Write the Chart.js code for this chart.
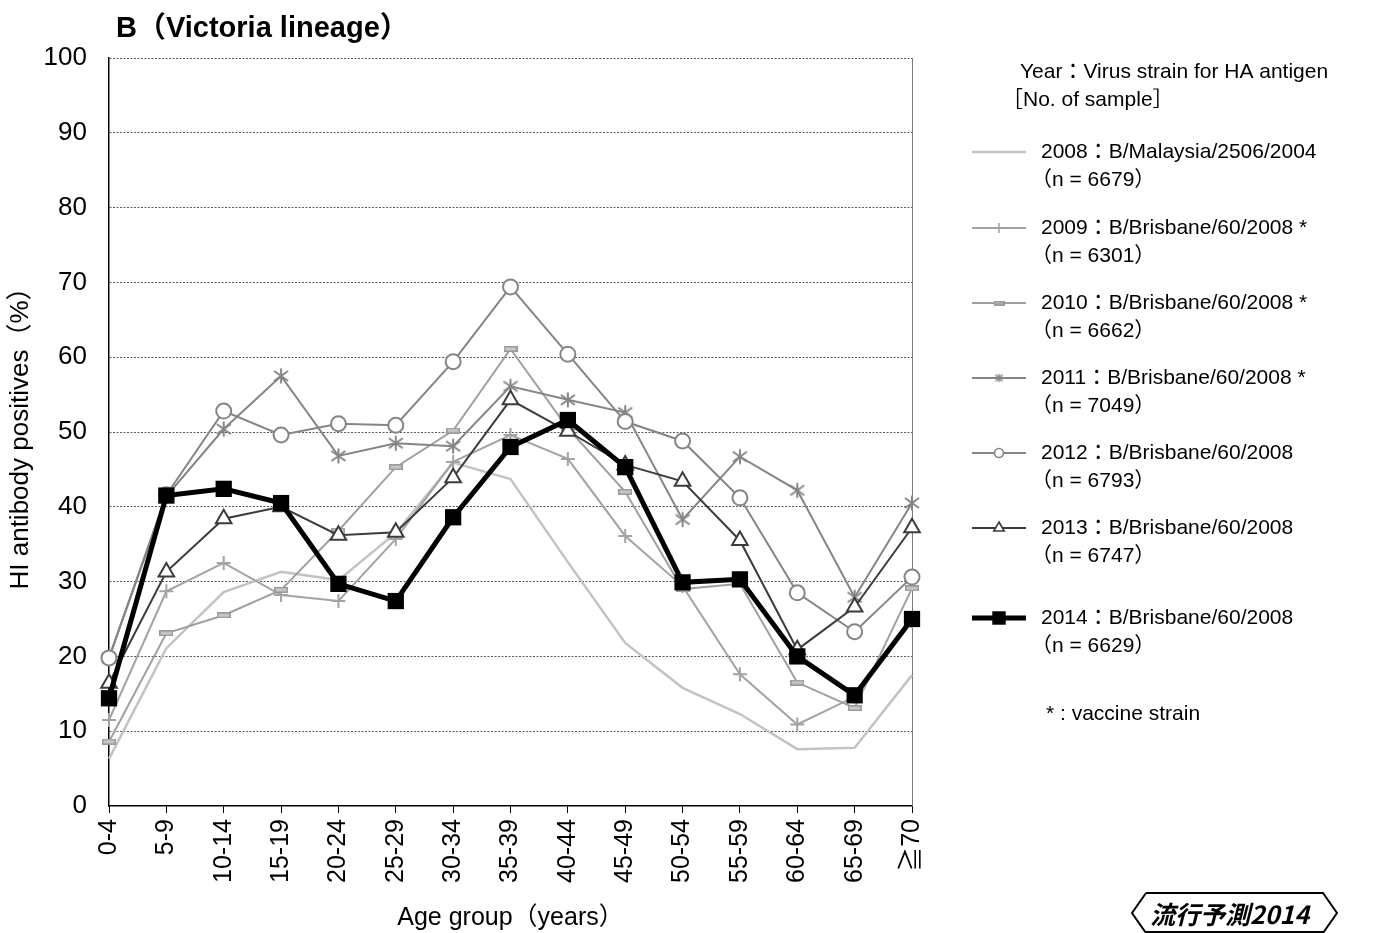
<!DOCTYPE html>
<html>
<head>
<meta charset="utf-8">
<script src="https://cdn.jsdelivr.net/npm/chart.js@4.4.1/dist/chart.umd.min.js"></script>
<style>
  html, body { margin: 0; padding: 0; background: #fff; }
  #wrap { width: 1375px; height: 933px; position: relative; }
</style>
</head>
<body>
<div id="wrap"><canvas id="c" width="1375" height="933"></canvas></div>
<script>
// Age groups along the x axis
const ageGroups = ['0-4','5-9','10-14','15-19','20-24','25-29','30-34','35-39','40-44','45-49','50-54','55-59','60-64','65-69','≧70'];
const yTicks = [0,10,20,30,40,50,60,70,80,90,100];

// Survey years, HA antigen strains and sample counts
const years = ['2008','2009','2010','2011','2012','2013','2014'];
const strains = ['B/Malaysia/2506/2004','B/Brisbane/60/2008 *','B/Brisbane/60/2008 *','B/Brisbane/60/2008 *','B/Brisbane/60/2008','B/Brisbane/60/2008','B/Brisbane/60/2008'];
const sampleSizes = ['6679','6301','6662','7049','6793','6747','6629'];

// HI antibody positive rate (%) by age group
const pos2008 = [6.3, 21.1, 28.6, 31.3, 30.2, 36.5, 45.9, 43.7, 32.6, 21.8, 15.8, 12.3, 7.6, 7.8, 17.5];
const pos2009 = [11.5, 28.7, 32.5, 28.2, 27.4, 35.7, 46.0, 49.6, 46.4, 36.1, 29.4, 17.6, 10.9, 14.6, 24.7];
const pos2010 = [8.6, 23.1, 25.5, 28.9, 36.8, 45.3, 50.2, 61.1, 50.5, 42.0, 29.0, 29.7, 16.5, 13.1, 29.1];
const pos2011 = [19.8, 41.4, 50.4, 57.5, 46.8, 48.5, 48.1, 56.1, 54.3, 52.6, 38.3, 46.7, 42.2, 27.9, 40.5];
const pos2012 = [19.8, 41.6, 52.8, 49.6, 51.1, 50.9, 59.4, 69.4, 60.4, 51.4, 48.8, 41.2, 28.5, 23.3, 30.6];
const pos2013 = [16.4, 31.3, 38.4, 40.0, 36.2, 36.6, 43.9, 54.3, 50.1, 45.6, 43.4, 35.5, 20.9, 26.6, 37.2];
const pos2014 = [14.4, 41.5, 42.4, 40.5, 29.7, 27.4, 38.6, 48.0, 51.6, 45.3, 29.9, 30.3, 20.0, 14.8, 25.0];

const FONT = "'Liberation Sans', Arial, 'Noto Sans CJK JP', sans-serif";

// Custom marker glyphs
function asteriskMarker(size, color, lw) {
  const c = document.createElement('canvas');
  c.width = size; c.height = size;
  const g = c.getContext('2d');
  const m = size / 2, p = 1.5;
  g.strokeStyle = color; g.lineWidth = lw; g.lineCap = 'butt';
  g.beginPath();
  g.moveTo(m, p); g.lineTo(m, size - p);
  g.moveTo(p + 0.5, size * 0.22); g.lineTo(size - p - 0.5, size * 0.78);
  g.moveTo(p + 0.5, size * 0.78); g.lineTo(size - p - 0.5, size * 0.22);
  g.stroke();
  return c;
}
function dashMarker(w, h, fill, stroke) {
  const c = document.createElement('canvas');
  c.width = w; c.height = h;
  const g = c.getContext('2d');
  g.fillStyle = fill; g.fillRect(0, 0, w, h);
  g.strokeStyle = stroke; g.lineWidth = 1.5; g.strokeRect(0.75, 0.75, w - 1.5, h - 1.5);
  return c;
}

const series = [
  { data: pos2008, color: '#c3c3c3', width: 2.5, style: false, radius: 0, fill: '#c3c3c3', order: 7,
    legend: { style: false } },
  { data: pos2009, color: '#a3a3a3', width: 2, style: 'cross', radius: 7, fill: '#a3a3a3', order: 6,
    legend: { style: 'cross', radius: 5 } },
  { data: pos2010, color: '#a0a0a0', width: 2, style: dashMarker(14, 6, '#c8c8c8', '#9a9a9a'), radius: 7, fill: '#a0a0a0', order: 5,
    legend: { style: dashMarker(11, 5, '#b0b0b0', '#9a9a9a') } },
  { data: pos2011, color: '#858585', width: 2, style: asteriskMarker(18, '#858585', 2), radius: 8, fill: '#858585', order: 4,
    legend: { style: asteriskMarker(11, '#858585', 1.6) } },
  { data: pos2012, color: '#858585', width: 2, style: 'circle', radius: 7.5, fill: '#ffffff', order: 3,
    legend: { style: 'circle', radius: 4.5 } },
  { data: pos2013, color: '#3c3c3c', width: 2, style: 'triangle', radius: 9, fill: '#ffffff', order: 2,
    legend: { style: 'triangle', radius: 6 } },
  { data: pos2014, color: '#000000', width: 5, style: 'rect', radius: 11.5, fill: '#000000', order: 1,
    legend: { style: 'rect', radius: 9.5 } }
];

const datasets = series.map((s, i) => ({
  label: years[i],
  data: s.data,
  borderColor: s.color,
  borderWidth: s.width,
  backgroundColor: s.fill,
  pointStyle: s.style,
  pointRadius: s.radius,
  pointHoverRadius: s.radius,
  pointBackgroundColor: s.fill,
  pointBorderColor: s.color,
  pointBorderWidth: (i === 6) ? 0 : 2,
  tension: 0,
  clip: false,
  order: s.order
}));

// Legend, title and badge drawn onto the canvas
const decorations = {
  id: 'decorations',
  beforeDatasetsDraw(chart) {
    const { ctx, chartArea: a } = chart;
    ctx.save();
    ctx.strokeStyle = '#7a7a7a';
    ctx.lineWidth = 1;
    ctx.beginPath();
    ctx.moveTo(Math.round(a.right) + 0.5, a.top);
    ctx.lineTo(Math.round(a.right) + 0.5, a.bottom);
    ctx.stroke();
    ctx.restore();
  },
  afterDraw(chart) {
    const ctx = chart.ctx;
    ctx.save();
    ctx.fillStyle = '#000';
    ctx.textBaseline = 'middle';
    ctx.textAlign = 'left';

    // Panel title
    ctx.font = 'bold 29px ' + FONT;
    ctx.fillText('B（Victoria lineage）', 116, 29);

    // Legend header
    ctx.font = '21px ' + FONT;
    ctx.fillText('Year：Virus strain for HA antigen', 1020, 72);
    ctx.fillText('［No. of sample］', 1002, 100);

    const rowY = [152, 228, 303, 378, 453, 528, 618];
    series.forEach((s, i) => {
      const y = rowY[i];
      ctx.strokeStyle = s.color;
      ctx.lineWidth = s.width;
      ctx.beginPath();
      ctx.moveTo(972, y);
      ctx.lineTo(1026, y);
      ctx.stroke();
      if (s.legend.style) {
        ctx.fillStyle = s.fill;
        ctx.strokeStyle = s.color;
        ctx.lineWidth = i === 6 ? 0 : 1.6;
        Chart.helpers.drawPoint(ctx, {
          pointStyle: s.legend.style,
          radius: s.legend.radius || 5,
          rotation: 0,
          borderWidth: i === 6 ? 0 : 1.6
        }, 999, y);
      }
      ctx.fillStyle = '#000';
      ctx.font = '21px ' + FONT;
      ctx.fillText(years[i] + '：' + strains[i], 1041, y);
      ctx.fillText('（n = ' + sampleSizes[i] + '）', 1031, y + 28);
    });

    ctx.fillText('* : vaccine strain', 1046, 714);

    // Badge in the bottom-right corner
    ctx.strokeStyle = '#000';
    ctx.lineWidth = 2;
    ctx.beginPath();
    ctx.moveTo(1146, 893); ctx.lineTo(1323, 893); ctx.lineTo(1337, 913); ctx.lineTo(1323, 933);
    ctx.moveTo(1146, 893); ctx.lineTo(1132, 913); ctx.lineTo(1146, 933);
    ctx.moveTo(1146, 932); ctx.lineTo(1323, 932);
    ctx.stroke();
    ctx.font = "italic bold 25px 'Noto Sans CJK JP', " + FONT;
    ctx.fillStyle = '#000';
    ctx.fillText('流行予測2014', 1150, 914);
    ctx.restore();
  }
};

new Chart(document.getElementById('c'), {
  type: 'line',
  data: { labels: ageGroups, datasets },
  options: {
    responsive: false,
    animation: false,
    events: [],
    layout: { padding: { left: 0, top: 58, right: 463, bottom: 0 } },
    plugins: { legend: { display: false }, title: { display: false }, tooltip: { enabled: false } },
    scales: {
      x: {
        type: 'category',
        offset: false,
        afterFit(scale) { scale.height = 127; },
        grid: { drawOnChartArea: false, drawTicks: true, tickLength: 7, color: '#000', lineWidth: 1 },
        border: { display: true, color: '#000', width: 1.5 },
        ticks: {
          color: '#000', font: { family: FONT, size: 25 },
          minRotation: 90, maxRotation: 90, autoSkip: false, padding: 6
        },
        title: {
          display: true, text: 'Age group（years）', color: '#000',
          font: { family: FONT, size: 25 }, padding: { top: 0, bottom: 0 }
        }
      },
      y: {
        min: 0, max: 100,
        afterFit(scale) { scale.width = 109; },
        afterBuildTicks(scale) { scale.ticks = yTicks.map(v => ({ value: v })); },
        grid: {
          drawTicks: false,
          color: ctx => (ctx.tick && ctx.tick.value === 0) ? 'rgba(0,0,0,0)' : '#5a5a5a',
          lineWidth: 1
        },
        border: { display: true, color: '#000', width: 1.5, dash: [2, 1.5] },
        ticks: { color: '#000', font: { family: FONT, size: 26 }, padding: 22 },
        title: {
          display: true, text: 'HI antibody positives（%）', color: '#000',
          font: { family: FONT, size: 26 }, padding: { top: 5, bottom: 0 }
        }
      }
    }
  },
  plugins: [decorations]
});
</script>
</body>
</html>
